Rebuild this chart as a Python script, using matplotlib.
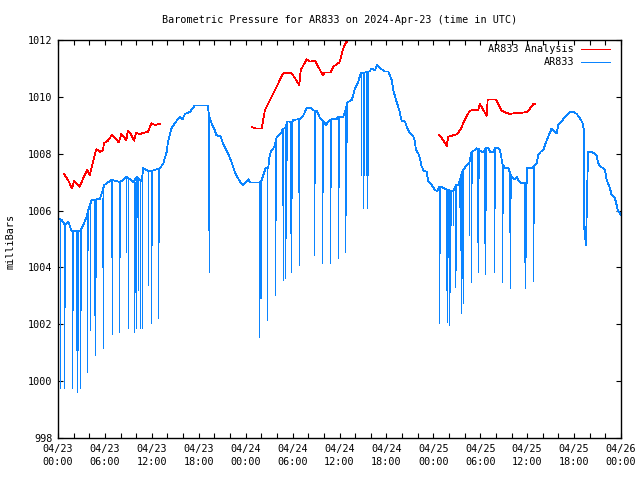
import matplotlib
matplotlib.use("Agg")
import matplotlib.pyplot as plt
from matplotlib.ticker import MultipleLocator
import numpy as np

# ---------------- data (hours since 2024-04-23 00:00 UTC, millibars) ----------------
blue_hours = [0.0, 0.47, 0.9, 1.32, 1.75, 2.81, 3.24, 3.67, 3.88, 4.3, 5.37, 5.92, 6.86, 7.93,
              8.78, 9.63, 10.06, 10.7, 10.9, 11.76, 13.04, 13.47, 13.9, 14.07, 14.49, 14.97,
              15.61, 15.9, 16.25, 16.9, 17.5, 19.1, 19.45, 20.04, 20.25, 20.8, 21.1, 21.74,
              22.17, 22.6, 23.02, 23.27, 23.6, 23.75, 24.34, 24.55, 25.83, 26.05, 26.34, 26.56,
              26.89, 27.02, 27.2, 27.53, 27.75, 27.97, 28.17, 28.6, 28.73, 29.03, 29.32, 29.67,
              29.89, 30.09, 30.95, 31.29, 31.59, 31.8, 32.44, 32.65, 33.08, 33.5, 33.93, 34.27,
              34.57, 35.0, 35.64, 35.85, 36.48, 36.7, 37.0, 37.56, 37.76, 37.98, 38.4, 38.71,
              39.81, 40.12, 40.54, 40.83, 41.39, 41.82, 42.24, 42.67, 42.88, 43.22, 43.64, 43.95,
              44.37, 44.59, 45.01, 45.44, 45.65, 45.78, 46.07, 46.29, 46.51, 46.8, 47.15, 47.35,
              47.79, 48.21, 48.5, 48.76, 49.19, 49.49, 50.35, 50.55, 50.9, 51.19, 51.83, 52.26,
              52.6, 52.9, 53.32, 53.54, 54.18, 54.39, 54.73, 55.03, 55.24, 55.67, 55.88, 56.31,
              56.52, 56.87, 57.16, 57.58, 58.02, 58.44, 58.66, 58.86, 59.3, 59.95, 60.01, 60.58,
              61.0, 61.22, 61.42, 61.73, 62.06, 62.28, 62.7, 63.13, 63.43, 63.77, 63.98, 64.41,
              64.62, 65.05, 65.47, 65.9, 66.33, 66.75, 67.1, 67.26, 67.3, 67.5, 67.6, 67.72,
              67.82, 68.25, 68.67, 68.88, 69.09, 69.31, 69.73, 69.95, 70.17, 70.59, 70.8, 71.23,
              71.44, 71.65, 71.87, 72.0]
blue_mb = [1005.72, 1005.67, 1005.49, 1005.61, 1005.28, 1005.28, 1005.49, 1005.78, 1006.02, 1006.37,
           1006.41, 1006.9, 1007.08, 1007.0, 1007.19, 1007.0, 1007.19, 1007.02, 1007.49, 1007.37,
           1007.49, 1007.66, 1008.07, 1008.42, 1008.89, 1009.09, 1009.3, 1009.2, 1009.4, 1009.48,
           1009.7, 1009.7, 1009.19, 1008.83, 1008.66, 1008.6, 1008.37, 1008.01, 1007.72, 1007.37,
           1007.14, 1007.02, 1006.9, 1006.93, 1007.1, 1006.99, 1006.99, 1007.08, 1007.31, 1007.51,
           1007.51, 1007.84, 1008.07, 1008.19, 1008.31, 1008.6, 1008.62, 1008.74, 1008.89, 1008.89,
           1009.13, 1009.13, 1009.07, 1009.19, 1009.22, 1009.3, 1009.48, 1009.6, 1009.6, 1009.52,
           1009.52, 1009.25, 1009.16, 1009.01, 1009.13, 1009.22, 1009.22, 1009.3, 1009.3, 1009.48,
           1009.8, 1009.89, 1010.07, 1010.3, 1010.53, 1010.83, 1010.89, 1011.0, 1010.94, 1011.12,
           1010.97, 1010.89, 1010.89, 1010.6, 1010.24, 1009.89, 1009.54, 1009.16, 1009.13, 1008.95,
           1008.72, 1008.62, 1008.42, 1008.13, 1008.01, 1007.84, 1007.55, 1007.39, 1007.37, 1007.02,
           1006.9, 1006.72, 1006.69, 1006.84, 1006.81, 1006.76, 1006.69, 1006.69, 1006.89, 1006.89,
           1007.43, 1007.6, 1007.68, 1008.07, 1008.13, 1008.19, 1008.07, 1008.07, 1008.19, 1008.19,
           1008.07, 1008.07, 1008.19, 1008.19, 1008.13, 1007.6, 1007.51, 1007.49, 1007.19, 1007.1,
           1007.19, 1007.08, 1006.96, 1006.96, 1007.49, 1007.49, 1007.6, 1007.66, 1007.95, 1008.07,
           1008.13, 1008.31, 1008.6, 1008.89, 1008.81, 1008.72, 1009.01, 1009.13, 1009.22, 1009.36,
           1009.48, 1009.48, 1009.4, 1009.25, 1009.07, 1008.83, 1005.4, 1004.8, 1005.7, 1007.3,
           1008.07, 1008.07, 1007.99, 1007.95, 1007.66, 1007.55, 1007.49, 1007.43, 1007.08, 1006.78,
           1006.55, 1006.43, 1006.2, 1005.96, 1005.9, 1005.85]

# short drop-outs in the AR833 record: time, lowest reading, reading before the drop
drop_hours = [0.3, 0.81, 0.86, 1.83, 1.96, 2.26, 2.39, 2.52, 2.81, 2.94, 3.75, 3.88, 4.09, 4.65,
              4.77, 4.9, 5.58, 5.8, 6.78, 6.86, 7.84, 7.93, 8.74, 8.91, 9.76, 9.85, 10.02, 10.1,
              10.27, 10.53, 10.7, 10.78, 11.55, 11.89, 12.06, 12.83, 12.96, 19.15, 19.32,
              25.74, 25.8, 25.92, 26.0, 26.69, 26.77, 27.79, 27.88, 28.64, 28.81, 29.03, 29.16,
              29.33, 29.67, 29.84, 29.96, 30.73, 30.86, 32.74, 32.91, 33.8, 33.93, 34.78, 34.95,
              35.85, 35.97, 36.74, 36.83, 36.92, 38.75, 39.04, 39.17, 39.39, 39.55, 39.68,
              48.76, 48.85, 49.62, 49.78, 49.91, 50.04, 50.13, 50.22, 50.55, 50.77, 50.9, 51.32,
              51.41, 51.53, 51.62, 51.75, 51.83, 52.6, 52.78, 52.9, 53.62, 53.75, 53.88, 54.48,
              54.6, 54.73, 55.75, 55.88, 56.82, 56.95, 57.72, 57.8, 57.89, 59.59, 59.76, 59.85,
              60.7, 60.78, 60.87]
drop_low = [999.75, 999.75, 1002.62, 999.75, 1002.5, 1001.1, 999.63, 1001.1, 999.75, 1002.5,
            1000.33, 1004.61, 1001.8, 1002.33, 1000.92, 1003.67, 1004.03, 1001.16, 1004.38, 1001.66,
            1001.74, 1004.38, 1004.55, 1001.87, 1001.74, 1003.15, 1001.87, 1005.78, 1003.2, 1001.87,
            1005.9, 1001.87, 1003.38, 1002.04, 1004.79, 1002.22, 1004.91, 1005.3, 1003.85,
            1001.56, 1002.91, 1002.91, 1005.67, 1004.96, 1002.15, 1003.03, 1005.67, 1006.2, 1003.56,
            1003.62, 1005.02, 1007.78, 1005.2, 1003.85, 1006.43, 1006.66, 1004.09, 1004.44, 1006.96,
            1004.17, 1006.66, 1004.17, 1006.84, 1004.34, 1006.84, 1004.55, 1005.84, 1008.42,
            1007.25, 1006.08, 1007.25, 1007.25, 1006.08, 1007.25,
            1002.03, 1004.5, 1003.2, 1002.09, 1004.38, 1001.97, 1003.15, 1005.49, 1005.49, 1003.32,
            1003.91, 1006.14, 1004.61, 1002.39, 1003.62, 1002.74, 1005.2, 1005.14, 1003.47, 1006.96,
            1004.91, 1003.85, 1007.14, 1004.85, 1003.76, 1006.02, 1003.85, 1006.08, 1003.47, 1005.9,
            1005.26, 1003.26, 1006.43, 1004.2, 1003.26, 1004.38, 1004.55, 1003.54, 1005.55]
drop_top = [1005.7, 1005.5, 1005.5, 1005.28, 1005.28, 1005.28, 1005.28, 1005.28, 1005.28, 1005.3,
            1005.9, 1006.0, 1006.2, 1006.4, 1006.4, 1006.4, 1006.45, 1006.8, 1007.08, 1007.08,
            1007.0, 1007.0, 1007.19, 1007.19, 1007.0, 1007.0, 1007.19, 1007.19, 1007.1, 1007.02,
            1007.02, 1007.45, 1007.37, 1007.37, 1007.4, 1007.49, 1007.49, 1009.7, 1009.19,
            1006.99, 1006.99, 1007.0, 1007.05, 1007.51, 1007.51, 1008.31, 1008.4, 1008.74, 1008.89,
            1008.89, 1009.0, 1009.13, 1009.13, 1009.1, 1009.15, 1009.2, 1009.2, 1009.52, 1009.52,
            1009.2, 1009.16, 1009.15, 1009.2, 1009.3, 1009.3, 1009.5, 1009.7, 1009.8,
            1010.83, 1010.85, 1010.85, 1010.87, 1010.87, 1010.89,
            1006.84, 1006.84, 1006.76, 1006.76, 1006.74, 1006.7, 1006.7, 1006.7, 1006.69, 1006.89,
            1006.89, 1006.89, 1007.3, 1007.4, 1007.4, 1007.43, 1007.43, 1007.68, 1008.0, 1008.07,
            1008.19, 1008.19, 1008.19, 1008.07, 1008.19, 1008.19, 1008.07, 1008.19, 1007.6, 1007.55,
            1007.49, 1007.3, 1007.25, 1006.96, 1006.96, 1006.96, 1007.49, 1007.49, 1007.55]

# analysis series (three runs)
ana1_hours = [0.77, 1.28, 1.79, 2.05, 2.77, 3.41, 3.75, 4.05, 4.48, 4.9, 5.33, 5.75, 5.88, 6.39,
              6.9, 7.16, 7.76, 8.1, 8.73, 8.95, 9.38, 9.72, 10.0, 10.44, 11.0, 11.51, 11.93,
              12.45, 13.0]
ana1_mb = [1007.29, 1007.08, 1006.78, 1007.04, 1006.84, 1007.25, 1007.43, 1007.25, 1007.72, 1008.16,
           1008.07, 1008.11, 1008.37, 1008.46, 1008.66, 1008.6, 1008.4, 1008.69, 1008.48, 1008.81,
           1008.66, 1008.46, 1008.74, 1008.69, 1008.74, 1008.77, 1009.07, 1009.01, 1009.05]
ana2_hours = [24.85, 25.3, 26.05, 26.47, 27.11, 27.75, 28.39, 28.81, 29.89, 30.86, 31.04, 31.8,
              32.23, 32.86, 33.85, 34.14, 34.87, 35.2, 35.97, 36.15, 36.49, 36.83, 37.0]
ana2_mb = [1008.93, 1008.89, 1008.89, 1009.54, 1009.89, 1010.24, 1010.6, 1010.83, 1010.83, 1010.42,
           1010.94, 1011.32, 1011.24, 1011.27, 1010.77, 1010.86, 1010.86, 1011.06, 1011.21, 1011.36,
           1011.71, 1011.92, 1011.92]
ana3_hours = [48.76, 49.2, 49.71, 49.91, 50.98, 51.5, 51.83, 52.2, 52.69, 53.75, 53.96, 54.82,
              54.95, 56.01, 56.74, 57.2, 57.8, 58.5, 59.3, 60.01, 60.4, 60.78, 61.0]
ana3_mb = [1008.66, 1008.5, 1008.27, 1008.6, 1008.68, 1008.85, 1009.07, 1009.3, 1009.52, 1009.54,
           1009.75, 1009.33, 1009.91, 1009.91, 1009.52, 1009.45, 1009.4, 1009.43, 1009.44, 1009.47,
           1009.6, 1009.74, 1009.75]

tick_hours = [0, 6, 12, 18, 24, 30, 36, 42, 48, 54, 60, 66, 72]
tick_labels = ["04/23\n00:00", "04/23\n06:00", "04/23\n12:00", "04/23\n18:00",
               "04/24\n00:00", "04/24\n06:00", "04/24\n12:00", "04/24\n18:00",
               "04/25\n00:00", "04/25\n06:00", "04/25\n12:00", "04/25\n18:00",
               "04/26\n00:00"]
y_ticks = [998, 1000, 1002, 1004, 1006, 1008, 1010, 1012]

title = "Barometric Pressure for AR833 on 2024-Apr-23 (time in UTC)"
ylabel = "milliBars"
label_ana = "AR833 Analysis"
label_obs = "AR833"

# ---------------- plot ----------------
BLUE = "#0a84ff"
RED = "#ff0000"
FONT = "DejaVu Sans Mono"
FS = 7.3
LW = 0.55
plt.rcParams["font.family"] = FONT

fig = plt.figure(figsize=(6.4, 4.8), dpi=100)
ax = fig.add_axes([58 / 640, 42 / 480, 563 / 640, 398 / 480])

ax.plot(blue_hours, blue_mb, color=BLUE, lw=LW, antialiased=False)
ax.vlines(drop_hours, drop_low, drop_top, color=BLUE, lw=LW, antialiased=False)
for hh, mm in [(ana1_hours, ana1_mb), (ana2_hours, ana2_mb), (ana3_hours, ana3_mb)]:
    ax.plot(hh, mm, color=RED, lw=LW, antialiased=False)

ax.set_xlim(0, 72)
ax.set_ylim(998, 1012)
ax.set_xticks(tick_hours)
ax.set_xticklabels(tick_labels, fontsize=FS, linespacing=1.45)
ax.xaxis.set_minor_locator(MultipleLocator(2))
ax.set_yticks(y_ticks)
ax.set_yticklabels([str(v) for v in y_ticks], fontsize=FS)
ax.tick_params(which="both", direction="in", length=3.5, width=0.8,
               top=True, right=True, pad=4)
for s in ax.spines.values():
    s.set_linewidth(1.0)

fig.text(339.5 / 640, 1 - 20 / 480, title, ha="center", va="center", fontsize=FS)
fig.text(11 / 640, 1 - 241 / 480, ylabel, rotation=90, ha="center", va="center", fontsize=FS)

# legend (gnuplot style: right-aligned text, sample to the right)
for ypix, lab, col in [(49, label_ana, RED), (62, label_obs, BLUE)]:
    yf = 1 - (ypix - 40) / 398
    ax.text((574 - 58) / 563, yf, lab, transform=ax.transAxes, ha="right", va="center",
            fontsize=FS)
    ax.plot([(581 - 58) / 563, (610 - 58) / 563], [yf, yf], transform=ax.transAxes,
            color=col, lw=LW, antialiased=False, clip_on=False)

fig.savefig("out.png", dpi=100)
